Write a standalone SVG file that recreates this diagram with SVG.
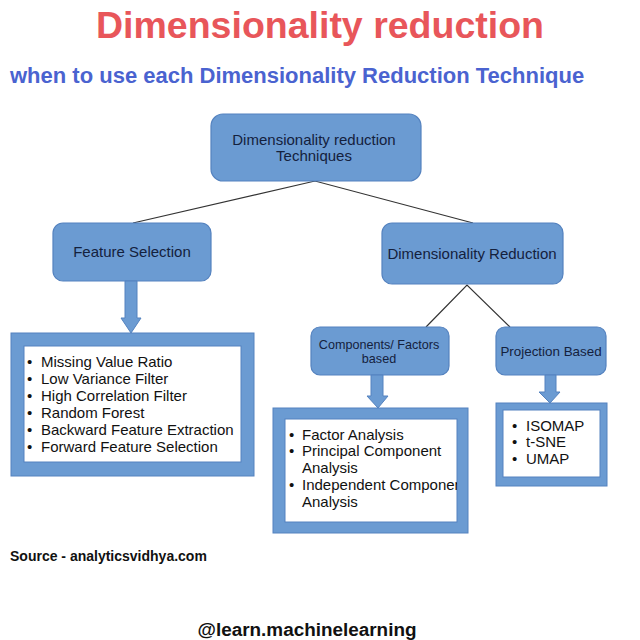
<svg xmlns="http://www.w3.org/2000/svg" width="640" height="640" viewBox="0 0 640 640">
<style>
text{font-family:"Liberation Sans",Arial,sans-serif}
.node{fill:#6b9bd2;stroke:#5482bf;stroke-width:1.2}
.lbl{fill:#14213d;text-anchor:middle}
.outer{fill:#6b9bd2;stroke:#5482bf;stroke-width:1}
.inner{fill:#ffffff;stroke:#5482bf;stroke-width:1}
.item{fill:#111111;font-size:15px}
.conn{stroke:#333;stroke-width:1.2;fill:none}
.arrow{fill:#6b9bd2;stroke:#5482bf;stroke-width:1}
</style>
<rect width="640" height="640" fill="#fff"/>
<text x="320" y="38" text-anchor="middle" font-size="37.5" font-weight="bold" fill="#e8565a">Dimensionality reduction</text>
<text x="10" y="83" font-size="22" font-weight="bold" fill="#4a63d0">when to use each Dimensionality Reduction Technique</text>

<g id="connectors">
<polyline class="conn" points="133,223 315,181 473,223"/>
<polyline class="conn" points="426,327 467,285 510,327"/>
</g>

<g id="n-top">
<rect class="node" x="211" y="114" width="210" height="67" rx="12"/>
<text class="lbl" x="314" y="145" font-size="15">Dimensionality reduction</text>
<text class="lbl" x="314" y="161" font-size="15">Techniques</text>
</g>

<g id="n-fs">
<rect class="node" x="53" y="223" width="158" height="58" rx="10"/>
<text class="lbl" x="132" y="257" font-size="15">Feature Selection</text>
</g>

<g id="n-dr">
<rect class="node" x="382" y="223" width="181" height="61" rx="10"/>
<text class="lbl" x="472" y="259" font-size="15">Dimensionality Reduction</text>
</g>

<g id="n-cf">
<rect class="node" x="311" y="327" width="138" height="48" rx="9"/>
<text class="lbl" x="379" y="349" font-size="12.6">Components/ Factors</text>
<text class="lbl" x="379" y="363" font-size="12.6">based</text>
</g>

<g id="n-pb">
<rect class="node" x="496" y="327" width="110" height="48" rx="9"/>
<text class="lbl" x="551" y="356" font-size="13.4">Projection Based</text>
</g>

<g id="a-fs">
<polygon class="arrow" points="125,281 137,281 137,318 141,318 131,333 121,318 125,318"/>
</g>
<g id="a-cf">
<polygon class="arrow" points="371,375 383,375 383,396 388,396 378,408 367,396 371,396"/>
</g>
<g id="a-pb">
<polygon class="arrow" points="545,375 556,375 556,392 560,392 550,403 539,392 545,392"/>
</g>

<g id="n-fs-list">
<rect class="outer" x="11" y="333" width="243" height="143"/>
<rect class="inner" x="24" y="346" width="217" height="116"/>
<g class="item">
<text x="27" y="367">•</text><text x="41" y="367">Missing Value Ratio</text>
<text x="27" y="384">•</text><text x="41" y="384">Low Variance Filter</text>
<text x="27" y="401">•</text><text x="41" y="401">High Correlation Filter</text>
<text x="27" y="418">•</text><text x="41" y="418">Random Forest</text>
<text x="27" y="435">•</text><text x="41" y="435">Backward Feature Extraction</text>
<text x="27" y="452">•</text><text x="41" y="452">Forward Feature Selection</text>
</g>
</g>

<g id="n-cf-list">
<clipPath id="clipcf"><rect x="285" y="419" width="172" height="103"/></clipPath>
<rect class="outer" x="273" y="408" width="195" height="125"/>
<rect class="inner" x="285" y="419" width="172" height="103"/>
<g class="item" clip-path="url(#clipcf)">
<text x="289" y="440">•</text><text x="302" y="440">Factor Analysis</text>
<text x="289" y="456">•</text><text x="302" y="456">Principal Component</text>
<text x="302" y="473">Analysis</text>
<text x="289" y="490">•</text><text x="302" y="490">Independent Component</text>
<text x="302" y="507">Analysis</text>
</g>
</g>

<g id="n-pb-list">
<rect class="outer" x="496" y="403" width="111" height="83"/>
<rect class="inner" x="503" y="410" width="97" height="67"/>
<g class="item">
<text x="512" y="431">•</text><text x="526" y="431">ISOMAP</text>
<text x="512" y="447">•</text><text x="526" y="447">t-SNE</text>
<text x="512" y="464">•</text><text x="526" y="464">UMAP</text>
</g>
</g>

<text x="10" y="561" font-size="14" font-weight="bold" fill="#111">Source - analyticsvidhya.com</text>
<text x="307" y="636" text-anchor="middle" font-size="18.9" font-weight="bold" fill="#111">@learn.machinelearning</text>
</svg>
